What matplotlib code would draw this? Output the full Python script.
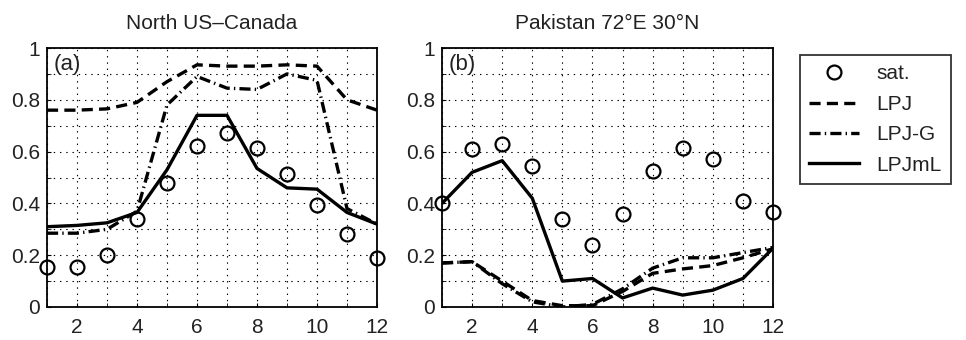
import matplotlib
matplotlib.use('Agg')
import matplotlib.pyplot as plt
import numpy as np

plt.rcParams['font.family'] = ['Liberation Sans', 'DejaVu Sans']
plt.rcParams['lines.scale_dashes'] = False

# months on x axis
months = np.arange(1, 13)

# panel (a) North US-Canada
sat_a = [0.155, 0.155, 0.20, 0.34, 0.48, 0.62, 0.67, 0.615, 0.515, 0.395, 0.28, 0.19]
lpj_a = [0.76, 0.76, 0.765, 0.79, 0.87, 0.935, 0.93, 0.93, 0.935, 0.93, 0.80, 0.76]
lpjg_a = [0.285, 0.285, 0.30, 0.37, 0.78, 0.89, 0.845, 0.84, 0.90, 0.875, 0.38, 0.32]
lpjml_a = [0.31, 0.315, 0.325, 0.365, 0.53, 0.74, 0.74, 0.535, 0.46, 0.455, 0.365, 0.32]

# panel (b) Pakistan
sat_b = [0.40, 0.61, 0.63, 0.545, 0.34, 0.24, 0.36, 0.525, 0.615, 0.57, 0.41, 0.365]
lpj_b = [0.17, 0.175, 0.10, 0.025, 0.005, 0.005, 0.06, 0.13, 0.147, 0.16, 0.19, 0.225]
lpjg_b = [0.17, 0.175, 0.09, 0.02, 0.0, 0.01, 0.07, 0.15, 0.19, 0.19, 0.21, 0.23]
lpjml_b = [0.40, 0.52, 0.565, 0.42, 0.10, 0.11, 0.035, 0.073, 0.046, 0.065, 0.11, 0.227]

titles = ['North US\u2013Canada', 'Pakistan 72\u00b0E 30\u00b0N']
panel_labels = ['(a)', '(b)']
xtick_vals = [2, 4, 6, 8, 10, 12]
ytick_vals = [0, 0.2, 0.4, 0.6, 0.8, 1]
ytick_labels = ['0', '0.2', '0.4', '0.6', '0.8', '1']

fs = 15
txt_col = '#222222'

fig = plt.figure(figsize=(9.66, 3.4), dpi=100)
ax_a = fig.add_axes([47 / 966, 33 / 340, 330 / 966, 259 / 340])
ax_b = fig.add_axes([442 / 966, 33 / 340, 331 / 966, 259 / 340])

data = [(sat_a, lpj_a, lpjg_a, lpjml_a), (sat_b, lpj_b, lpjg_b, lpjml_b)]

for i, ax in enumerate([ax_a, ax_b]):
    sat, lpj, lpjg, lpjml = data[i]
    ax.plot(months, lpj, color='black', lw=2.4, linestyle=(0, (8, 4.5)), label='LPJ')
    ax.plot(months, lpjg, color='black', lw=2.4, linestyle=(0, (8, 3, 1, 3)), label='LPJ-G')
    ax.plot(months, lpjml, color='black', lw=2.4, label='LPJmL')
    ax.plot(months, sat, 'o', mfc='none', mec='black', ms=10, mew=1.6, clip_on=False, label='sat.', zorder=5)

    ax.set_xlim(1, 12)
    ax.set_ylim(0, 1)
    ax.set_xticks(xtick_vals)
    ax.set_xticks(np.arange(1, 13), minor=True)
    ax.set_yticks(ytick_vals)
    ax.set_yticklabels(ytick_labels)
    ax.set_yticks(np.arange(0, 1.01, 0.1), minor=True)
    ax.grid(True, which='both', linestyle=(0, (1, 3.5)), color='black', lw=0.8)
    ax.tick_params(which='both', direction='in', length=3, labelsize=fs, labelcolor=txt_col)
    ax.tick_params(axis='x', pad=8)
    ax.tick_params(axis='y', pad=5)
    for sp in ax.spines.values():
        sp.set_linewidth(1.3)
    ax.set_title(titles[i], fontsize=fs, color=txt_col, pad=14)
    ax.text(0.02, 0.975, panel_labels[i], transform=ax.transAxes, fontsize=fs + 1,
            color=txt_col, va='top', ha='left')

handles, labels = ax_a.get_legend_handles_labels()
order = [3, 0, 1, 2]
leg = fig.legend([handles[k] for k in order], [labels[k] for k in order],
                 loc='upper left', bbox_to_anchor=(800 / 966, 1 - 55 / 340),
                 borderaxespad=0, fontsize=fs, frameon=True, fancybox=False,
                 handlelength=2.4, handletextpad=0.8, labelspacing=0.55, borderpad=0.45)
leg.get_frame().set_edgecolor('black')
leg.get_frame().set_linewidth(1.3)
for t in leg.get_texts():
    t.set_color(txt_col)

fig.savefig('out.png', dpi=100)
